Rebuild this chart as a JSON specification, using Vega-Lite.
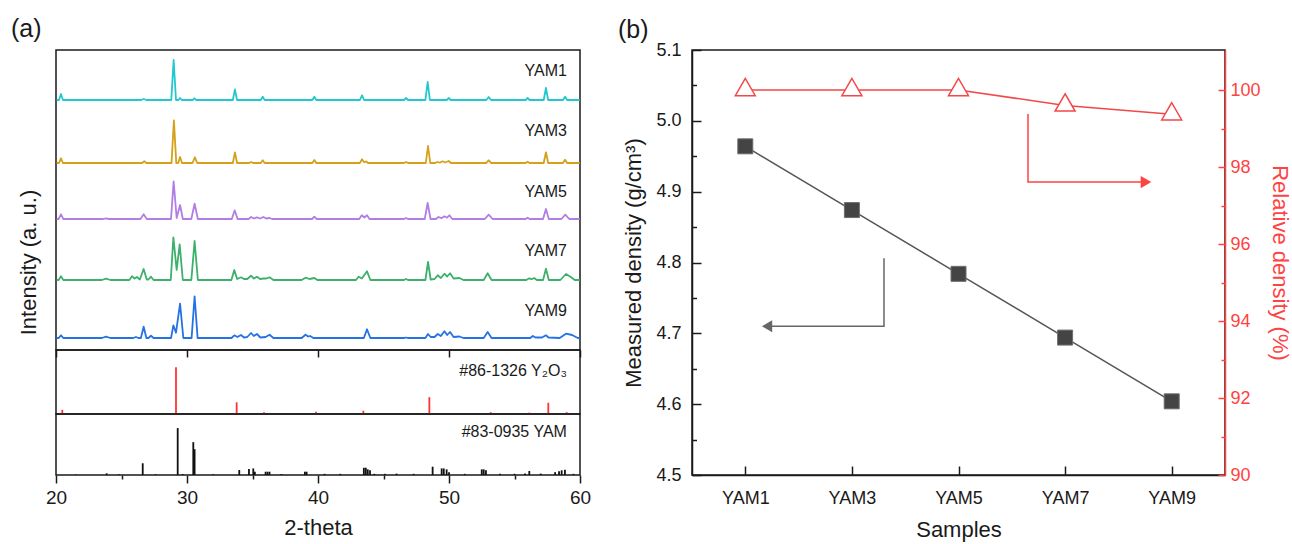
{
"$schema": "https://vega.github.io/schema/vega-lite/v6.json",
"padding": {"left": 11, "top": 17, "right": 2, "bottom": 2},
"background": "white",
"config": {
  "font": "Liberation Sans",
  "view": {"stroke": null},
  "axis": {"grid": false, "labelFlush": false, "labelFont": "Liberation Sans", "titleFont": "Liberation Sans", "labelFontSize": 18, "titleFontSize": 22, "titleFontWeight": "normal", "labelColor": "#1a1a1a", "titleColor": "#1a1a1a", "domainColor": "#1a1a1a", "tickColor": "#1a1a1a", "domainWidth": 1.5, "tickWidth": 1.5},
  "title": {"font": "Liberation Sans", "fontSize": 25, "fontWeight": "normal", "color": "#1a1a1a", "anchor": "start"},
  "text": {"font": "Liberation Sans"}
},
"datasets": {
  "xrd": [
    {"s":"YAM1","t":20.05,"i":250},{"s":"YAM1","t":20.23,"i":250},{"s":"YAM1","t":20.38,"i":256},{"s":"YAM1","t":20.53,"i":250},
    {"s":"YAM1","t":26.5,"i":250},{"s":"YAM1","t":26.7,"i":251},{"s":"YAM1","t":26.9,"i":250},
    {"s":"YAM1","t":28.8,"i":250},{"s":"YAM1","t":28.98,"i":290},{"s":"YAM1","t":29.16,"i":250},
    {"s":"YAM1","t":29.35,"i":250},{"s":"YAM1","t":29.47,"i":252},{"s":"YAM1","t":29.6,"i":250},
    {"s":"YAM1","t":30.43,"i":250},{"s":"YAM1","t":30.56,"i":251.7},{"s":"YAM1","t":30.7,"i":250},
    {"s":"YAM1","t":33.5,"i":250},{"s":"YAM1","t":33.66,"i":260.7},{"s":"YAM1","t":33.82,"i":250},
    {"s":"YAM1","t":35.63,"i":250},{"s":"YAM1","t":35.78,"i":253.3},{"s":"YAM1","t":35.93,"i":250},
    {"s":"YAM1","t":39.57,"i":250},{"s":"YAM1","t":39.72,"i":253.3},{"s":"YAM1","t":39.87,"i":250},
    {"s":"YAM1","t":43.2,"i":250},{"s":"YAM1","t":43.36,"i":254.7},{"s":"YAM1","t":43.52,"i":250},
    {"s":"YAM1","t":46.57,"i":250},{"s":"YAM1","t":46.72,"i":252},{"s":"YAM1","t":46.87,"i":250},
    {"s":"YAM1","t":48.2,"i":250},{"s":"YAM1","t":48.37,"i":268},{"s":"YAM1","t":48.54,"i":250},
    {"s":"YAM1","t":49.83,"i":250},{"s":"YAM1","t":49.98,"i":252},{"s":"YAM1","t":50.13,"i":250},
    {"s":"YAM1","t":52.85,"i":250},{"s":"YAM1","t":53.03,"i":253},{"s":"YAM1","t":53.2,"i":250},
    {"s":"YAM1","t":55.85,"i":250},{"s":"YAM1","t":56.0,"i":252},{"s":"YAM1","t":56.15,"i":250},
    {"s":"YAM1","t":57.23,"i":250},{"s":"YAM1","t":57.4,"i":262},{"s":"YAM1","t":57.57,"i":250},
    {"s":"YAM1","t":58.7,"i":250},{"s":"YAM1","t":58.86,"i":253.3},{"s":"YAM1","t":59.02,"i":250},
    {"s":"YAM1","t":59.98,"i":250},

    {"s":"YAM3","t":20.05,"i":187},{"s":"YAM3","t":20.23,"i":187},{"s":"YAM3","t":20.38,"i":191.7},{"s":"YAM3","t":20.53,"i":187},
    {"s":"YAM3","t":26.57,"i":187},{"s":"YAM3","t":26.74,"i":188.7},{"s":"YAM3","t":26.9,"i":187},
    {"s":"YAM3","t":28.82,"i":187},{"s":"YAM3","t":29.0,"i":229.7},{"s":"YAM3","t":29.18,"i":187},
    {"s":"YAM3","t":29.33,"i":187},{"s":"YAM3","t":29.47,"i":193},{"s":"YAM3","t":29.62,"i":187},
    {"s":"YAM3","t":30.42,"i":187},{"s":"YAM3","t":30.6,"i":192.7},{"s":"YAM3","t":30.78,"i":187},
    {"s":"YAM3","t":33.5,"i":187},{"s":"YAM3","t":33.66,"i":197.7},{"s":"YAM3","t":33.82,"i":187},
    {"s":"YAM3","t":34.75,"i":187},{"s":"YAM3","t":34.9,"i":188},{"s":"YAM3","t":35.05,"i":187},
    {"s":"YAM3","t":35.63,"i":187},{"s":"YAM3","t":35.78,"i":189.7},{"s":"YAM3","t":35.93,"i":187},
    {"s":"YAM3","t":39.57,"i":187},{"s":"YAM3","t":39.72,"i":190},{"s":"YAM3","t":39.87,"i":187},
    {"s":"YAM3","t":43.2,"i":187},{"s":"YAM3","t":43.36,"i":190.7},{"s":"YAM3","t":43.52,"i":187.8},{"s":"YAM3","t":43.67,"i":188.5},{"s":"YAM3","t":43.82,"i":187},
    {"s":"YAM3","t":46.57,"i":187},{"s":"YAM3","t":46.72,"i":188},{"s":"YAM3","t":46.87,"i":187},
    {"s":"YAM3","t":48.23,"i":187},{"s":"YAM3","t":48.4,"i":204},{"s":"YAM3","t":48.57,"i":187},
    {"s":"YAM3","t":48.95,"i":187},{"s":"YAM3","t":49.1,"i":188},{"s":"YAM3","t":49.3,"i":187.3},{"s":"YAM3","t":49.5,"i":188.7},{"s":"YAM3","t":49.7,"i":187.5},{"s":"YAM3","t":49.98,"i":189},{"s":"YAM3","t":50.15,"i":187},
    {"s":"YAM3","t":52.83,"i":187},{"s":"YAM3","t":53.03,"i":189.7},{"s":"YAM3","t":53.23,"i":187},
    {"s":"YAM3","t":55.85,"i":187},{"s":"YAM3","t":56.0,"i":188.3},{"s":"YAM3","t":56.15,"i":187},
    {"s":"YAM3","t":57.23,"i":187},{"s":"YAM3","t":57.4,"i":197.7},{"s":"YAM3","t":57.57,"i":187},
    {"s":"YAM3","t":58.7,"i":187},{"s":"YAM3","t":58.86,"i":190.3},{"s":"YAM3","t":59.02,"i":187},
    {"s":"YAM3","t":59.98,"i":187},

    {"s":"YAM5","t":20.05,"i":131},{"s":"YAM5","t":20.2,"i":131},{"s":"YAM5","t":20.38,"i":135.7},{"s":"YAM5","t":20.56,"i":131},
    {"s":"YAM5","t":23.6,"i":131},{"s":"YAM5","t":23.82,"i":131.7},{"s":"YAM5","t":24.05,"i":131},
    {"s":"YAM5","t":26.45,"i":131},{"s":"YAM5","t":26.69,"i":135.7},{"s":"YAM5","t":26.93,"i":131},
    {"s":"YAM5","t":28.78,"i":131},{"s":"YAM5","t":28.98,"i":168.7},{"s":"YAM5","t":29.21,"i":132},{"s":"YAM5","t":29.47,"i":145},{"s":"YAM5","t":29.68,"i":131},
    {"s":"YAM5","t":30.33,"i":131},{"s":"YAM5","t":30.58,"i":146.3},{"s":"YAM5","t":30.83,"i":131},
    {"s":"YAM5","t":33.42,"i":131},{"s":"YAM5","t":33.64,"i":139.7},{"s":"YAM5","t":33.86,"i":131},
    {"s":"YAM5","t":34.7,"i":131},{"s":"YAM5","t":34.89,"i":133},{"s":"YAM5","t":35.1,"i":131.5},{"s":"YAM5","t":35.34,"i":132.7},{"s":"YAM5","t":35.58,"i":131.5},{"s":"YAM5","t":35.83,"i":133},{"s":"YAM5","t":36.05,"i":131.5},{"s":"YAM5","t":36.3,"i":132},{"s":"YAM5","t":36.5,"i":131},
    {"s":"YAM5","t":39.55,"i":131},{"s":"YAM5","t":39.72,"i":133.3},{"s":"YAM5","t":39.9,"i":131},
    {"s":"YAM5","t":43.15,"i":131},{"s":"YAM5","t":43.34,"i":134.7},{"s":"YAM5","t":43.54,"i":132.5},{"s":"YAM5","t":43.74,"i":134.7},{"s":"YAM5","t":43.93,"i":131},
    {"s":"YAM5","t":46.57,"i":131},{"s":"YAM5","t":46.72,"i":132},{"s":"YAM5","t":46.87,"i":131},
    {"s":"YAM5","t":48.15,"i":131},{"s":"YAM5","t":48.37,"i":147},{"s":"YAM5","t":48.59,"i":131},
    {"s":"YAM5","t":49.0,"i":131},{"s":"YAM5","t":49.2,"i":133},{"s":"YAM5","t":49.42,"i":131.8},{"s":"YAM5","t":49.65,"i":133.7},{"s":"YAM5","t":49.85,"i":132.3},{"s":"YAM5","t":50.03,"i":134.7},{"s":"YAM5","t":50.25,"i":131},
    {"s":"YAM5","t":52.73,"i":131},{"s":"YAM5","t":53.03,"i":135.3},{"s":"YAM5","t":53.33,"i":131},
    {"s":"YAM5","t":55.85,"i":131},{"s":"YAM5","t":56.0,"i":132.3},{"s":"YAM5","t":56.15,"i":131},
    {"s":"YAM5","t":57.18,"i":131},{"s":"YAM5","t":57.4,"i":141},{"s":"YAM5","t":57.62,"i":131},
    {"s":"YAM5","t":58.58,"i":131},{"s":"YAM5","t":58.88,"i":135.3},{"s":"YAM5","t":59.18,"i":131},
    {"s":"YAM5","t":59.98,"i":131},

    {"s":"YAM7","t":20.05,"i":70},{"s":"YAM7","t":20.2,"i":70},{"s":"YAM7","t":20.38,"i":73.7},{"s":"YAM7","t":20.56,"i":70},
    {"s":"YAM7","t":23.5,"i":70},{"s":"YAM7","t":23.82,"i":71.3},{"s":"YAM7","t":24.15,"i":70},
    {"s":"YAM7","t":25.6,"i":70},{"s":"YAM7","t":25.8,"i":73.7},{"s":"YAM7","t":26.0,"i":71.5},{"s":"YAM7","t":26.18,"i":73},{"s":"YAM7","t":26.4,"i":70.5},{"s":"YAM7","t":26.69,"i":81},{"s":"YAM7","t":26.93,"i":70.5},{"s":"YAM7","t":27.05,"i":70.5},{"s":"YAM7","t":27.25,"i":73.3},{"s":"YAM7","t":27.45,"i":70},
    {"s":"YAM7","t":28.76,"i":70},{"s":"YAM7","t":28.96,"i":112.7},{"s":"YAM7","t":29.21,"i":80},{"s":"YAM7","t":29.44,"i":105.7},{"s":"YAM7","t":29.68,"i":70},
    {"s":"YAM7","t":30.33,"i":70},{"s":"YAM7","t":30.58,"i":109},{"s":"YAM7","t":30.83,"i":70},
    {"s":"YAM7","t":33.39,"i":70},{"s":"YAM7","t":33.61,"i":80},{"s":"YAM7","t":33.83,"i":71},{"s":"YAM7","t":34.12,"i":72.7},{"s":"YAM7","t":34.35,"i":71},{"s":"YAM7","t":34.6,"i":71},{"s":"YAM7","t":34.89,"i":74.3},{"s":"YAM7","t":35.1,"i":71.5},{"s":"YAM7","t":35.34,"i":73.3},{"s":"YAM7","t":35.58,"i":71},{"s":"YAM7","t":35.83,"i":71.5},{"s":"YAM7","t":36.05,"i":71.5},{"s":"YAM7","t":36.3,"i":72.7},{"s":"YAM7","t":36.6,"i":70},
    {"s":"YAM7","t":38.75,"i":70},{"s":"YAM7","t":39.05,"i":72.3},{"s":"YAM7","t":39.35,"i":71},{"s":"YAM7","t":39.72,"i":72},{"s":"YAM7","t":39.95,"i":70},
    {"s":"YAM7","t":42.9,"i":70},{"s":"YAM7","t":43.1,"i":73.3},{"s":"YAM7","t":43.35,"i":71.5},{"s":"YAM7","t":43.74,"i":78.7},{"s":"YAM7","t":44.0,"i":70},
    {"s":"YAM7","t":46.57,"i":70},{"s":"YAM7","t":46.72,"i":71},{"s":"YAM7","t":46.87,"i":70},
    {"s":"YAM7","t":48.2,"i":70},{"s":"YAM7","t":48.4,"i":88},{"s":"YAM7","t":48.6,"i":70.5},{"s":"YAM7","t":48.9,"i":71},{"s":"YAM7","t":49.14,"i":74.7},{"s":"YAM7","t":49.38,"i":72},{"s":"YAM7","t":49.65,"i":76.3},{"s":"YAM7","t":49.86,"i":73.5},{"s":"YAM7","t":50.08,"i":76.7},{"s":"YAM7","t":50.35,"i":71.5},{"s":"YAM7","t":50.8,"i":72},{"s":"YAM7","t":51.1,"i":70},
    {"s":"YAM7","t":52.65,"i":70},{"s":"YAM7","t":52.95,"i":76.7},{"s":"YAM7","t":53.25,"i":70},
    {"s":"YAM7","t":55.9,"i":70},{"s":"YAM7","t":56.13,"i":71.7},{"s":"YAM7","t":56.3,"i":70.8},{"s":"YAM7","t":56.5,"i":72},{"s":"YAM7","t":56.7,"i":70},
    {"s":"YAM7","t":57.18,"i":70},{"s":"YAM7","t":57.4,"i":81.3},{"s":"YAM7","t":57.62,"i":70},
    {"s":"YAM7","t":58.5,"i":70},{"s":"YAM7","t":58.93,"i":76},{"s":"YAM7","t":59.3,"i":73},{"s":"YAM7","t":59.6,"i":70},
    {"s":"YAM7","t":59.98,"i":70},

    {"s":"YAM9","t":20.05,"i":12},{"s":"YAM9","t":20.2,"i":12},{"s":"YAM9","t":20.38,"i":14.7},{"s":"YAM9","t":20.56,"i":12},
    {"s":"YAM9","t":23.5,"i":12},{"s":"YAM9","t":23.82,"i":13.3},{"s":"YAM9","t":24.15,"i":12},
    {"s":"YAM9","t":25.9,"i":12},{"s":"YAM9","t":26.1,"i":13},{"s":"YAM9","t":26.3,"i":12},
    {"s":"YAM9","t":26.48,"i":12},{"s":"YAM9","t":26.69,"i":23.3},{"s":"YAM9","t":26.9,"i":12},{"s":"YAM9","t":27.05,"i":12},{"s":"YAM9","t":27.25,"i":14.3},{"s":"YAM9","t":27.45,"i":12},
    {"s":"YAM9","t":28.78,"i":12},{"s":"YAM9","t":28.96,"i":24.7},{"s":"YAM9","t":29.16,"i":17.3},{"s":"YAM9","t":29.47,"i":46.3},{"s":"YAM9","t":29.72,"i":12},
    {"s":"YAM9","t":30.35,"i":12},{"s":"YAM9","t":30.58,"i":53.7},{"s":"YAM9","t":30.81,"i":12},
    {"s":"YAM9","t":33.4,"i":12},{"s":"YAM9","t":33.61,"i":14.7},{"s":"YAM9","t":33.85,"i":13},{"s":"YAM9","t":34.12,"i":15},{"s":"YAM9","t":34.35,"i":12.5},{"s":"YAM9","t":34.6,"i":13},{"s":"YAM9","t":34.89,"i":17},{"s":"YAM9","t":35.1,"i":14},{"s":"YAM9","t":35.34,"i":16},{"s":"YAM9","t":35.6,"i":12.5},{"s":"YAM9","t":36.0,"i":13},{"s":"YAM9","t":36.3,"i":15.3},{"s":"YAM9","t":36.6,"i":12},
    {"s":"YAM9","t":38.75,"i":12},{"s":"YAM9","t":39.05,"i":15.3},{"s":"YAM9","t":39.25,"i":13.5},{"s":"YAM9","t":39.4,"i":14},{"s":"YAM9","t":39.65,"i":12},
    {"s":"YAM9","t":43.5,"i":12},{"s":"YAM9","t":43.74,"i":20.7},{"s":"YAM9","t":44.0,"i":12},
    {"s":"YAM9","t":46.6,"i":12},{"s":"YAM9","t":46.72,"i":12.5},{"s":"YAM9","t":46.85,"i":12},
    {"s":"YAM9","t":48.2,"i":12},{"s":"YAM9","t":48.4,"i":16},{"s":"YAM9","t":48.6,"i":13},{"s":"YAM9","t":48.9,"i":13},{"s":"YAM9","t":49.14,"i":16},{"s":"YAM9","t":49.38,"i":14},{"s":"YAM9","t":49.65,"i":18.7},{"s":"YAM9","t":49.86,"i":15},{"s":"YAM9","t":50.08,"i":18},{"s":"YAM9","t":50.35,"i":13},{"s":"YAM9","t":50.8,"i":13.5},{"s":"YAM9","t":51.1,"i":12},
    {"s":"YAM9","t":52.65,"i":12},{"s":"YAM9","t":52.95,"i":18},{"s":"YAM9","t":53.25,"i":12},
    {"s":"YAM9","t":56.2,"i":12},{"s":"YAM9","t":56.4,"i":14},{"s":"YAM9","t":56.6,"i":12.5},{"s":"YAM9","t":57.1,"i":12.5},{"s":"YAM9","t":57.4,"i":14.7},{"s":"YAM9","t":57.6,"i":12.5},
    {"s":"YAM9","t":58.45,"i":12},{"s":"YAM9","t":58.93,"i":16.3},{"s":"YAM9","t":59.4,"i":15},{"s":"YAM9","t":59.83,"i":12},
    {"s":"YAM9","t":59.98,"i":12}
  ],
  "sampleLabels": [
    {"label":"YAM1","t":59.0,"i":279},
    {"label":"YAM3","t":59.0,"i":219},
    {"label":"YAM5","t":59.0,"i":158},
    {"label":"YAM7","t":59.0,"i":99},
    {"label":"YAM9","t":59.0,"i":39}
  ],
  "y2o3": [
    {"t":20.48,"i":9},{"t":29.16,"i":100},{"t":33.79,"i":25},{"t":35.88,"i":4},{"t":37.9,"i":1},
    {"t":39.85,"i":5},{"t":43.46,"i":7},{"t":46.9,"i":2},{"t":48.5,"i":36},{"t":50.13,"i":1},
    {"t":53.18,"i":4},{"t":54.71,"i":1},{"t":56.13,"i":3},{"t":57.58,"i":24},{"t":58.98,"i":4}
  ],
  "yamref": [
    {"t":21.5,"i":1},{"t":23.87,"i":3.6},{"t":24.8,"i":1.5},{"t":26.62,"i":25},{"t":27.6,"i":1.5},{"t":29.29,"i":100},{"t":29.67,"i":2},
    {"t":30.48,"i":70},{"t":30.58,"i":55},{"t":32.0,"i":1.5},{"t":33.99,"i":10.6},{"t":34.73,"i":12.8},{"t":35.06,"i":14},{"t":35.18,"i":7},
    {"t":36.0,"i":7},{"t":36.15,"i":7},{"t":36.3,"i":7},{"t":37.2,"i":2},{"t":39.0,"i":7},{"t":39.13,"i":7},{"t":40.5,"i":2.5},{"t":41.7,"i":2.5},
    {"t":43.5,"i":15.5},{"t":43.65,"i":15.5},{"t":43.8,"i":12},{"t":43.97,"i":10},{"t":44.3,"i":2.5},{"t":45.1,"i":2.5},{"t":46.0,"i":3},{"t":47.3,"i":2.5},
    {"t":48.75,"i":17.7},{"t":49.44,"i":14},{"t":49.6,"i":14},{"t":49.82,"i":12},{"t":50.0,"i":6},{"t":51.2,"i":2.5},
    {"t":52.5,"i":12},{"t":52.65,"i":12},{"t":52.82,"i":10},{"t":53.9,"i":2.5},{"t":55.0,"i":2.5},{"t":55.8,"i":3},{"t":56.13,"i":8.5},{"t":57.0,"i":3},
    {"t":58.1,"i":6},{"t":58.4,"i":8},{"t":58.6,"i":10},{"t":58.85,"i":11},{"t":59.5,"i":2.5}
  ],
  "density": [
    {"sample":"YAM1","idx":1,"measured":4.964,"relative":100},
    {"sample":"YAM3","idx":2,"measured":4.874,"relative":100},
    {"sample":"YAM5","idx":3,"measured":4.784,"relative":100},
    {"sample":"YAM7","idx":4,"measured":4.694,"relative":99.6},
    {"sample":"YAM9","idx":5,"measured":4.604,"relative":99.37}
  ]
},
"spacing": 25,
"hconcat": [
  {
    "title": {"text": "(a)", "frame": "group", "anchor": "start", "baseline": "alphabetic", "offset": -13, "dx": -45},
    "spacing": 0,
    "bounds": "flush",
    "vconcat": [
      {
        "width": 524, "height": 300,
        "view": {"stroke": "#1a1a1a", "strokeWidth": 1.5},
        "layer": [
          {"data": {"name": "xrd"}, "mark": {"type": "line", "strokeWidth": 1.8, "strokeJoin": "round"},
           "encoding": {
             "x": {"field": "t", "type": "quantitative", "scale": {"domain": [20, 60], "nice": false, "zero": false}, "axis": {"orient": "bottom", "values": [20, 30, 40, 50, 60], "labels": false, "domain": false, "tickSize": 7, "title": null}},
             "y": {"field": "i", "type": "quantitative", "scale": {"domain": [0, 300], "nice": false, "zero": false}, "axis": {"labels": false, "ticks": false, "domain": false, "title": "Intensity (a. u.)", "titlePadding": 16, "titleY": 212}},
             "color": {"field": "s", "type": "nominal", "scale": {"domain": ["YAM1", "YAM3", "YAM5", "YAM7", "YAM9"], "range": ["#22C8CE", "#D6A11A", "#B27DE4", "#3DB06B", "#2472E4"]}, "legend": null}
           }},
          {"data": {"name": "sampleLabels"}, "mark": {"type": "text", "align": "right", "baseline": "middle", "fontSize": 16, "color": "#1a1a1a"},
           "encoding": {
             "x": {"field": "t", "type": "quantitative"},
             "y": {"field": "i", "type": "quantitative"},
             "text": {"field": "label"}
           }}
        ]
      },
      {
        "width": 524, "height": 64,
        "view": {"stroke": "#1a1a1a", "strokeWidth": 1.5},
        "layer": [
          {"data": {"name": "y2o3"}, "mark": {"type": "rule", "color": "#FF3333", "strokeWidth": 1.8},
           "encoding": {
             "x": {"field": "t", "type": "quantitative", "scale": {"domain": [20, 60], "nice": false, "zero": false}, "axis": null},
             "y": {"field": "i", "type": "quantitative", "scale": {"domain": [0, 137], "nice": false, "zero": false}, "axis": null},
             "y2": {"datum": 0}
           }},
          {"data": {"values": [{"label": "#86-1326 Y₂O₃", "t": 59.0, "i": 92}]}, "mark": {"type": "text", "align": "right", "baseline": "middle", "fontSize": 16, "color": "#1a1a1a"},
           "encoding": {
             "x": {"field": "t", "type": "quantitative", "axis": null},
             "y": {"field": "i", "type": "quantitative", "axis": null},
             "text": {"field": "label"}
           }}
        ]
      },
      {
        "width": 524, "height": 61,
        "view": {"stroke": "#1a1a1a", "strokeWidth": 1.5},
        "resolve": {"axis": {"x": "independent"}},
        "layer": [
          {"data": {"name": "yamref"}, "mark": {"type": "rule", "color": "#111111", "strokeWidth": 1.8},
           "encoding": {
             "x": {"field": "t", "type": "quantitative", "scale": {"domain": [20, 60], "nice": false, "zero": false}, "axis": {"orient": "bottom", "values": [20, 30, 40, 50, 60], "tickSize": 8, "labelPadding": 5, "labelFontSize": 19, "title": "2-theta", "titlePadding": 10, "domain": false}},
             "y": {"field": "i", "type": "quantitative", "scale": {"domain": [0, 130], "nice": false, "zero": false}, "axis": null},
             "y2": {"datum": 0}
           }},
          {"data": {"name": "yamref"}, "mark": {"type": "point", "opacity": 0},
           "encoding": {
             "x": {"field": "t", "type": "quantitative", "axis": {"orient": "bottom", "values": [25, 35, 45, 55], "tickSize": 4, "labels": false, "domain": false, "title": null}},
             "y": {"field": "i", "type": "quantitative", "axis": null}
           }},
          {"data": {"values": [{"label": "#83-0935 YAM", "t": 59.0, "i": 92}]}, "mark": {"type": "text", "align": "right", "baseline": "middle", "fontSize": 16, "color": "#1a1a1a"},
           "encoding": {
             "x": {"field": "t", "type": "quantitative", "axis": null},
             "y": {"field": "i", "type": "quantitative", "axis": null},
             "text": {"field": "label"}
           }}
        ]
      }
    ]
  },
  {
    "width": 533, "height": 425,
    "view": {"stroke": "#1a1a1a", "strokeWidth": 1.5},
    "title": {"text": "(b)", "frame": "group", "anchor": "start", "baseline": "alphabetic", "offset": -22, "dx": -74},
    "resolve": {"scale": {"y": "independent"}},
    "layer": [
      {
        "resolve": {"axis": {"y": "independent"}},
        "layer": [
          {"data": {"name": "density"}, "mark": {"type": "line", "color": "#555555", "strokeWidth": 1.5},
           "encoding": {
             "x": {"field": "idx", "type": "quantitative", "scale": {"domain": [0.5, 5.5], "nice": false, "zero": false}, "axis": {"orient": "bottom", "values": [1, 2, 3, 4, 5], "labelExpr": "'YAM' + (2*datum.value-1)", "tickSize": -9, "labelPadding": 23, "title": "Samples", "titlePadding": 12}},
             "y": {"field": "measured", "type": "quantitative", "scale": {"domain": [4.5, 5.1], "nice": false, "zero": false}, "axis": {"orient": "left", "values": [4.5, 4.6, 4.7, 4.8, 4.9, 5.0, 5.1], "format": ".1f", "tickSize": -9, "labelPadding": 20, "title": "Measured density (g/cm³)", "titlePadding": 10}}
           }},
          {"data": {"name": "density"}, "mark": {"type": "point", "shape": "square", "filled": true, "size": 225, "fill": "#444444", "stroke": "#6e6e6e", "strokeWidth": 1, "opacity": 1},
           "encoding": {
             "x": {"field": "idx", "type": "quantitative"},
             "y": {"field": "measured", "type": "quantitative", "axis": null}
           }},
          {"data": {"name": "density"}, "mark": {"type": "point", "opacity": 0},
           "encoding": {
             "x": {"field": "idx", "type": "quantitative"},
             "y": {"field": "measured", "type": "quantitative", "axis": {"orient": "left", "values": [4.55, 4.65, 4.75, 4.85, 4.95, 5.05], "tickSize": -4.5, "labels": false, "domain": false, "title": null}}
           }},
          {"data": {"values": [{"idx": 2.301, "measured": 4.806, "ord": 1}, {"idx": 2.301, "measured": 4.71, "ord": 2}, {"idx": 1.204, "measured": 4.71, "ord": 3}]},
           "mark": {"type": "line", "color": "#666666", "strokeWidth": 1.5},
           "encoding": {
             "x": {"field": "idx", "type": "quantitative"},
             "y": {"field": "measured", "type": "quantitative", "axis": null},
             "order": {"field": "ord", "type": "quantitative"}
           }},
          {"data": {"values": [{"idx": 1.204, "measured": 4.71}]},
           "mark": {"type": "point", "shape": "triangle-left", "filled": true, "size": 140, "color": "#666666", "opacity": 1},
           "encoding": {
             "x": {"field": "idx", "type": "quantitative"},
             "y": {"field": "measured", "type": "quantitative", "axis": null}
           }}
        ]
      },
      {
        "resolve": {"axis": {"y": "independent"}},
        "layer": [
          {"data": {"name": "density"}, "mark": {"type": "line", "color": "#F24848", "strokeWidth": 1.5},
           "encoding": {
             "x": {"field": "idx", "type": "quantitative"},
             "y": {"field": "relative", "type": "quantitative", "scale": {"domain": [90, 101.04], "nice": false, "zero": false}, "axis": {"orient": "right", "values": [90, 92, 94, 96, 98, 100], "tickSize": -7, "labelPadding": 12, "title": "Relative density (%)", "titlePadding": 7, "labelColor": "#FF4242", "titleColor": "#FF4242", "tickColor": "#FF4242", "domainColor": "#FF4242"}}
           }},
          {"data": {"name": "density"}, "mark": {"type": "point", "shape": "triangle-up", "filled": true, "size": 400, "fill": "#ffffff", "stroke": "#F24848", "strokeWidth": 1.5, "opacity": 1, "yOffset": -3},
           "encoding": {
             "x": {"field": "idx", "type": "quantitative"},
             "y": {"field": "relative", "type": "quantitative", "axis": null}
           }},
          {"data": {"name": "density"}, "mark": {"type": "point", "opacity": 0},
           "encoding": {
             "x": {"field": "idx", "type": "quantitative"},
             "y": {"field": "relative", "type": "quantitative", "axis": {"orient": "right", "values": [91, 93, 95, 97, 99], "tickSize": -4, "labels": false, "domain": false, "title": null, "tickColor": "#FF4242"}}
           }},
          {"data": {"values": [{"idx": 3.652, "relative": 99.38, "ord": 1}, {"idx": 3.652, "relative": 97.61, "ord": 2}, {"idx": 4.759, "relative": 97.61, "ord": 3}]},
           "mark": {"type": "line", "color": "#FF4242", "strokeWidth": 1.5},
           "encoding": {
             "x": {"field": "idx", "type": "quantitative"},
             "y": {"field": "relative", "type": "quantitative", "axis": null},
             "order": {"field": "ord", "type": "quantitative"}
           }},
          {"data": {"values": [{"idx": 4.759, "relative": 97.61}]},
           "mark": {"type": "point", "shape": "triangle-right", "filled": true, "size": 150, "color": "#FF4242", "opacity": 1},
           "encoding": {
             "x": {"field": "idx", "type": "quantitative"},
             "y": {"field": "relative", "type": "quantitative", "axis": null}
           }}
        ]
      }
    ]
  }
]
}
